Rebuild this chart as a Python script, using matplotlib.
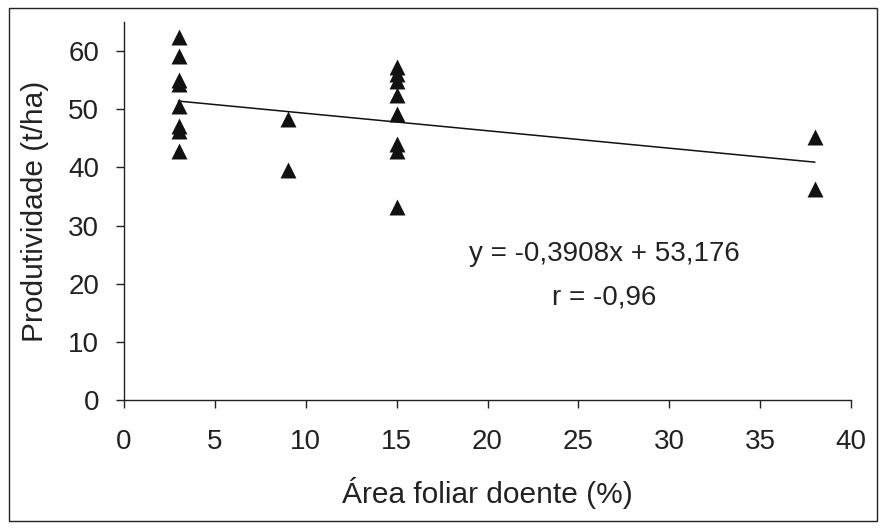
import matplotlib
matplotlib.use("Agg")
import matplotlib.pyplot as plt
from matplotlib.patches import Rectangle

# Data
area_x = [3, 3, 3, 3, 3, 3, 3, 3,
          9, 9,
          15, 15, 15, 15, 15, 15, 15, 15,
          38, 38]
prod_y = [62.5, 59.1, 55.0, 54.4, 50.5, 47.1, 46.2, 42.8,
          48.4, 39.5,
          57.2, 56.0, 54.9, 52.5, 49.2, 44.1, 42.9, 33.2,
          45.2, 36.3]
trend_x = [3, 38]
trend_y = [51.4, 40.9]
x_ticks = [0, 5, 10, 15, 20, 25, 30, 35, 40]
y_ticks = [0, 10, 20, 30, 40, 50, 60]
equation_text = "y = -0,3908x + 53,176"
r_text = "r = -0,96"

plt.rcParams['font.family'] = ['Liberation Sans', 'DejaVu Sans']

fig = plt.figure(figsize=(8.85, 5.30), dpi=100)
fig.patch.set_facecolor('white')
fig.patches.append(Rectangle((9 / 885, 1 - 521 / 530), (877 - 9) / 885, (521 - 8) / 530,
                             transform=fig.transFigure, fill=False,
                             edgecolor='#222222', linewidth=1.0))

ax = fig.add_axes([124 / 885, 1 - 400 / 530, (851 - 124) / 885, (400 - 22) / 530])
ax.scatter(area_x, prod_y, marker='^', s=11.5 ** 2, color='#111111', zorder=3, linewidths=0)
ax.plot(trend_x, trend_y, color='#111111', linewidth=1.1, zorder=2)

ax.set_xlim(0, 40)
ax.set_ylim(0, 65)
ax.set_xticks(x_ticks)
ax.set_yticks(y_ticks)
for s in ['top', 'right']:
    ax.spines[s].set_visible(False)
for s in ['left', 'bottom']:
    ax.spines[s].set_linewidth(1.0)
    ax.spines[s].set_color('#222222')
ax.tick_params(axis='x', direction='out', length=6, width=1.0, pad=15, labelsize=20, colors='#222222')
ax.tick_params(axis='y', direction='out', length=6, width=1.0, pad=12, labelsize=20, colors='#222222')

ax.set_xlabel("Área foliar doente (%)", fontsize=21.5, color='#222222', labelpad=16)
ax.set_ylabel("Produtividade (t/ha)", fontsize=21.5, color='#222222', labelpad=14)

fig.text(604 / 885, 1 - 254 / 530, equation_text, fontsize=20, ha='center', va='center', color='#222222')
fig.text(604 / 885, 1 - 297 / 530, r_text, fontsize=20, ha='center', va='center', color='#222222')

fig.savefig("out.png", dpi=100, facecolor='white')
